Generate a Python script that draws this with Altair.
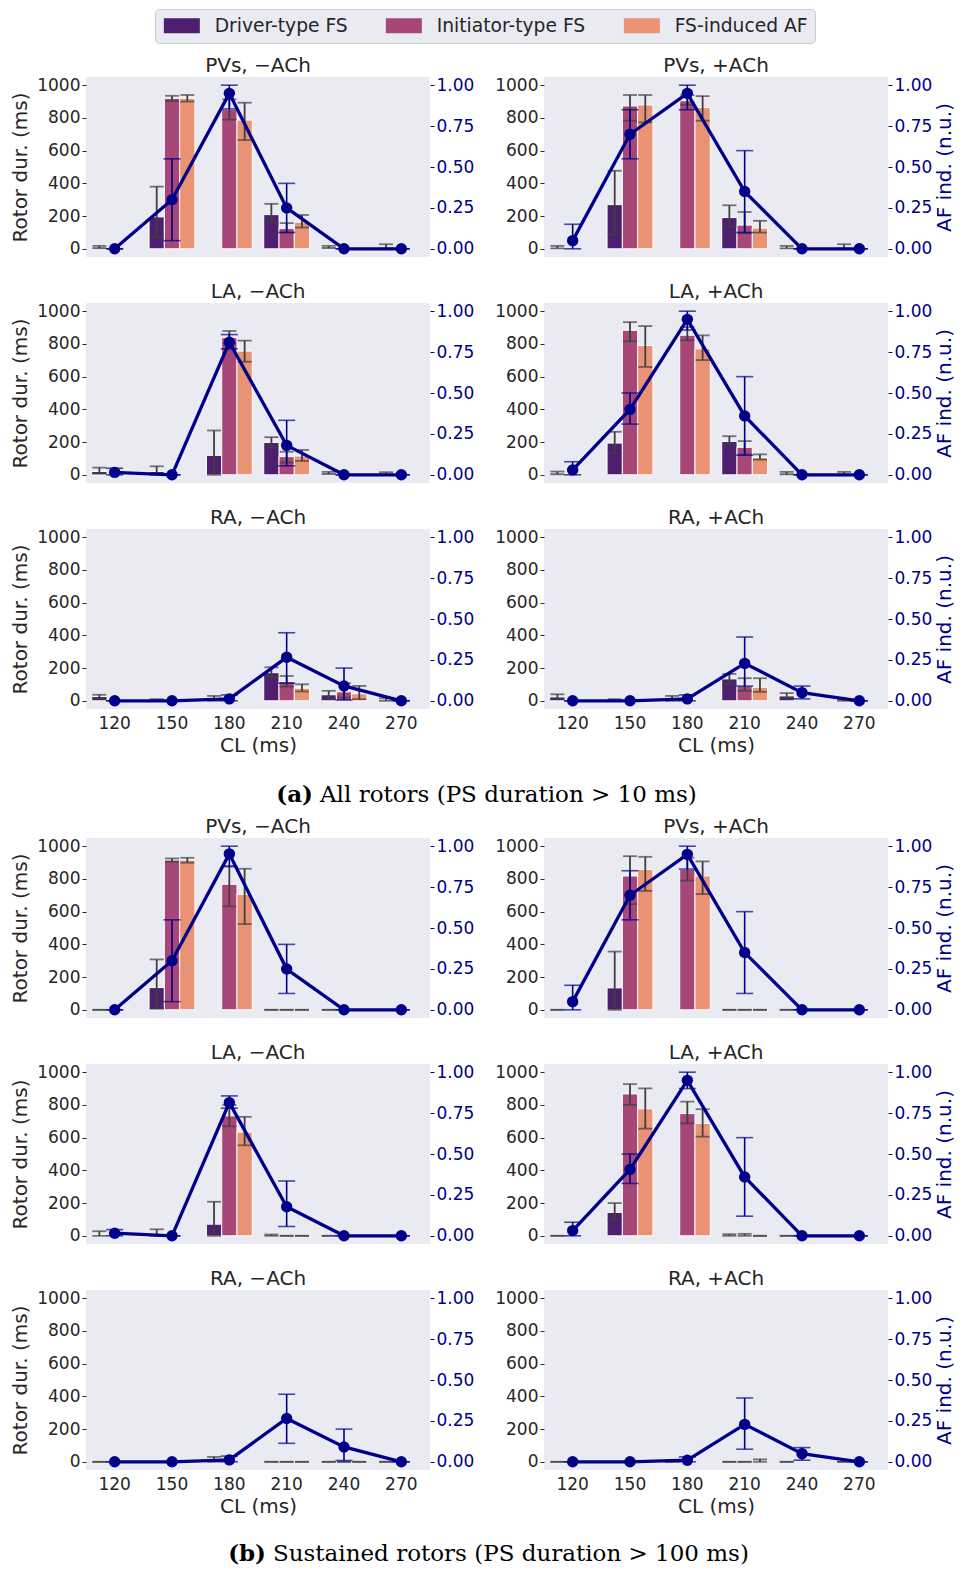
import altair as alt
import pandas as pd

CL = [120, 150, 180, 210, 240, 270]
TYPES = ["Driver-type FS", "Initiator-type FS", "FS-induced AF"]
COLORS = ["#4f1f6f", "#a74778", "#e99274"]
NAVY = "#00008b"
TXT = "#262626"
ERR = "#3f3f3f"

Y_TICKS_L = [0, 200, 400, 600, 800, 1000]
Y_TICKS_R = [0, 0.25, 0.5, 0.75, 1.0]

# Rotor duration (mean, lower, upper) in ms per CL, None = not present
# AF inducibility (mean, lower, upper) in n.u. per CL

# ---------- (a) All rotors ----------
A_PVS_NO = dict(
    drv=[(10, 4, 18), (195, 70, 380), None, (209, 160, 275), (10, 5, 18), (10, 2, 28)],
    ini=[None, (920, 903, 935), (853, 790, 913), (125, 100, 157), None, None],
    fsi=[None, (920, 900, 940), (787, 665, 893), (163, 130, 207), None, None],
    af=[(0, 0, 0), (0.30, 0.05, 0.55), (0.95, 0.855, 1.0), (0.25, 0.10, 0.40), (0, 0, 0), (0, 0, 0)],
)
A_PVS_ACH = dict(
    drv=[(8, 3, 18), (270, 90, 477), None, (191, 135, 266), (8, 3, 18), (8, 2, 28)],
    ini=[None, (873, 783, 940), (905, 880, 940), (145, 95, 225), None, None],
    fsi=[None, (879, 773, 940), (863, 783, 933), (127, 99, 171), None, None],
    af=[(0.05, 0, 0.15), (0.70, 0.55, 0.85), (0.95, 0.85, 1.0), (0.35, 0.10, 0.60), (0, 0, 0), (0, 0, 0)],
)
A_LA_NO = dict(
    drv=[(20, 8, 44), (20, 0, 52), (119, 0, 271), (198, 166, 230), (10, 5, 18), (8, 2, 16)],
    ini=[None, None, (838, 802, 879), (111, 75, 141), None, None],
    fsi=[None, None, (756, 691, 820), (115, 85, 152), None, None],
    af=[(0.015, 0, 0.04), (0, 0, 0), (0.81, 0.77, 0.857), (0.18, 0.055, 0.333), (0, 0, 0), (0, 0, 0)],
)
A_LA_ACH = dict(
    drv=[(10, 3, 20), (194, 131, 263), None, (204, 186, 236), (10, 3, 18), (5, 0, 18)],
    ini=[None, (883, 816, 933), (853, 822, 903), (168, 125, 206), None, None],
    fsi=[None, (790, 659, 909), (770, 701, 852), (105, 93, 125), None, None],
    af=[(0.03, 0, 0.08), (0.40, 0.31, 0.50), (0.95, 0.885, 1.0), (0.36, 0.12, 0.60), (0, 0, 0), (0, 0, 0)],
)
A_RA_NO = dict(
    drv=[(26, 16, 37), (5, 0, 10), (10, 0, 30), (172, 148, 205), (37, 10, 61), (8, 0, 15)],
    ini=[None, None, None, (118, 87, 152), (55, 20, 107), None],
    fsi=[None, None, None, (77, 57, 101), (43, 10, 91), None],
    af=[(0, 0, 0), (0, 0, 0), (0.012, 0, 0.036), (0.266, 0.108, 0.416), (0.091, 0.005, 0.20), (0, 0, 0)],
)
A_RA_ACH = dict(
    drv=[(22, 16, 40), (5, 0, 10), (10, 0, 30), (134, 103, 164), (30, 16, 47), (5, 0, 10)],
    ini=[None, None, None, (91, 61, 138), None, None],
    fsi=[None, None, None, (83, 55, 138), None, None],
    af=[(0, 0, 0), (0, 0, 0), (0.012, 0, 0.036), (0.229, 0.09, 0.39), (0.05, 0.012, 0.09), (0, 0, 0)],
)

# ---------- (b) Sustained rotors ----------
B_PVS_NO = dict(
    drv=[(0, 0, 0), (136, 8, 308), None, (0, 0, 0), (0, 0, 0), None],
    ini=[None, (915, 905, 925), (767, 632, 879), (0, 0, 0), None, None],
    fsi=[None, (915, 899, 929), (706, 524, 862), (0, 0, 0), None, None],
    af=[(0, 0, 0), (0.30, 0.05, 0.55), (0.953, 0.875, 1.0), (0.249, 0.10, 0.40), (0, 0, 0), (0, 0, 0)],
)
B_PVS_ACH = dict(
    drv=[(0, 0, 0), (134, 0, 356), None, (0, 0, 0), (0, 0, 0), None],
    ini=[None, (818, 646, 939), (858, 790, 930), (0, 0, 0), None, None],
    fsi=[None, (858, 727, 935), (818, 707, 907), (0, 0, 0), None, None],
    af=[(0.05, 0, 0.15), (0.70, 0.55, 0.85), (0.95, 0.86, 1.0), (0.35, 0.10, 0.60), (0, 0, 0), (0, 0, 0)],
)
B_LA_NO = dict(
    drv=[(8, 0, 28), (8, 0, 40), (71, 0, 208), (5, 0, 8), (0, 0, 0), None],
    ini=[None, None, (733, 669, 800), (0, 0, 0), None, None],
    fsi=[None, None, (634, 553, 727), (0, 0, 0), None, None],
    af=[(0.016, 0, 0.038), (0, 0, 0), (0.814, 0.78, 0.855), (0.178, 0.057, 0.335), (0, 0, 0), (0, 0, 0)],
)
B_LA_ACH = dict(
    drv=[(0, 0, 0), (143, 99, 200), None, (5, 0, 10), (0, 0, 0), None],
    ini=[None, (867, 800, 927), (747, 687, 820), (5, 0, 12), None, None],
    fsi=[None, (776, 655, 901), (687, 606, 774), (0, 0, 0), None, None],
    af=[(0.032, 0, 0.083), (0.406, 0.32, 0.50), (0.95, 0.90, 1.0), (0.36, 0.12, 0.60), (0, 0, 0), (0, 0, 0)],
)
B_RA_NO = dict(
    drv=[(0, 0, 0), None, (5, 0, 30), (0, 0, 0), (0, 0, 0), (0, 0, 0)],
    ini=[None, None, None, (0, 0, 0), (0, 0, 0), None],
    fsi=[None, None, None, (0, 0, 0), (0, 0, 0), None],
    af=[(0, 0, 0), (0, 0, 0), (0.012, 0, 0.035), (0.265, 0.113, 0.413), (0.091, 0.008, 0.20), (0, 0, 0)],
)
B_RA_ACH = dict(
    drv=[(0, 0, 0), None, (0, 0, 0), (0, 0, 0), (0, 0, 0), (0, 0, 0)],
    ini=[None, None, None, (0, 0, 0), None, None],
    fsi=[None, None, None, (5, 0, 15), None, None],
    af=[(0, 0, 0), (0, 0, 0), (0.01, 0, 0.03), (0.229, 0.077, 0.39), (0.05, 0.01, 0.087), (0, 0, 0)],
)

CAP_A = ("(a)", "All rotors (PS duration > 10 ms)")
CAP_B = ("(b)", "Sustained rotors (PS duration > 100 ms)")

PW, PH = 344, 180

xs = alt.Scale(domain=CL, paddingInner=0, paddingOuter=0)
offs = alt.Scale(domain=TYPES, paddingInner=0, paddingOuter=0.375)
ysl = alt.Scale(domain=[-50, 1050], nice=False, zero=False)
ysr = alt.Scale(domain=[-0.05, 1.05], nice=False, zero=False)

legend = alt.Legend(
    orient="none", legendX=69, legendY=-68, direction="horizontal", title=None,
    fillColor="#EAEAF2", strokeColor="#cccccc", cornerRadius=4, padding=7,
    labelFontSize=18.7, labelColor=TXT, labelFont="DejaVu Sans", labelOffset=34,
    columnPadding=36, symbolType="M-1,-1H3.8V1H-1Z", symbolSize=225,
    symbolStrokeWidth=0, symbolOpacity=1,
)


def panel(d, title, left, bottom):
    rows = []
    for key, t in zip(["drv", "ini", "fsi"], TYPES):
        for c, v in zip(CL, d[key]):
            if v is not None:
                rows.append(dict(cl=c, type=t, mean=v[0], lo=v[1], hi=v[2]))
    bdf = pd.DataFrame(rows)
    adf = pd.DataFrame([dict(cl=c, af=v[0], lo=v[1], hi=v[2]) for c, v in zip(CL, d["af"])])

    if bottom:
        xenc = alt.X("cl:O", scale=xs, axis=alt.Axis(
            title="CL (ms)", labelAngle=0, labelFontSize=17, labelColor=TXT,
            titleFontSize=20, titleFontWeight="normal", titleColor=TXT, ticks=False,
            domain=False, grid=False, labelPadding=6, titlePadding=4))
    else:
        xenc = alt.X("cl:O", scale=xs, axis=None)

    axl = alt.Axis(
        orient="left", values=Y_TICKS_L, format="d", labelFontSize=17, labelColor=TXT,
        tickColor=TXT, tickSize=4, labelPadding=2, domain=False, grid=False,
        minExtent=50, maxExtent=50,
        title="Rotor dur. (ms)" if left else None, titleFontSize=20, titleFontWeight="normal",
        titleColor=TXT, titlePadding=6)
    axr = alt.Axis(
        orient="right", values=Y_TICKS_R, format=".2f", labelFontSize=17, labelColor=NAVY,
        tickColor=NAVY, tickSize=4, labelPadding=2, domain=False, grid=False,
        minExtent=44, maxExtent=44, title=None if left else "AF ind. (n.u.)",
        titleFontSize=20, titleFontWeight="normal", titleColor=NAVY, titleAngle=270,
        titleBaseline="top", titlePadding=2)

    def yl(f):
        return alt.Y(f"{f}:Q", scale=ysl, axis=axl)

    def yr(f):
        return alt.Y(f"{f}:Q", scale=ysr, axis=axr)

    off = alt.XOffset("type:N", scale=offs)
    bb = alt.Chart(bdf)
    bars = bb.mark_bar(stroke="white", strokeWidth=1).encode(
        x=xenc, xOffset=off, y=yl("mean"), y2=alt.datum(0),
        color=alt.Color("type:N", scale=alt.Scale(domain=TYPES, range=COLORS), legend=legend))
    erule = bb.mark_rule(color=ERR, strokeWidth=1.8).encode(
        x=xenc, xOffset=off, y=yl("lo"), y2="hi:Q")
    ecap1 = bb.mark_tick(color=ERR, thickness=1.8, size=14).encode(x=xenc, xOffset=off, y=yl("lo"))
    ecap2 = bb.mark_tick(color=ERR, thickness=1.8, size=14).encode(x=xenc, xOffset=off, y=yl("hi"))
    left_layer = alt.layer(bars, erule, ecap1, ecap2)

    ab = alt.Chart(adf)
    arule = ab.mark_rule(color=NAVY, strokeWidth=1.6).encode(x=xenc, y=yr("lo"), y2="hi:Q")
    acap1 = ab.mark_tick(color=NAVY, thickness=1.6, size=17).encode(x=xenc, y=yr("lo"))
    acap2 = ab.mark_tick(color=NAVY, thickness=1.6, size=17).encode(x=xenc, y=yr("hi"))
    line = ab.mark_line(color=NAVY, strokeWidth=3.3).encode(x=xenc, y=yr("af"))
    pts = ab.mark_circle(color=NAVY, size=130, opacity=1).encode(x=xenc, y=yr("af"))
    right_layer = alt.layer(arule, acap1, acap2, line, pts)

    return alt.layer(left_layer, right_layer).resolve_scale(y="independent").properties(
        width=PW, height=PH,
        title=alt.TitleParams(title, fontSize=20, fontWeight="normal", color=TXT, offset=0))


def caption(parts, tag_x, h, ty):
    df = pd.DataFrame({"tag": [parts[0]], "rest": [parts[1]]})
    base = alt.Chart(df)
    tag = base.mark_text(align="right", baseline="middle", font="DejaVu Serif", fontSize=23,
                         fontWeight="bold", color="black").encode(
        text="tag:N", x=alt.value(tag_x), y=alt.value(ty))
    rest = base.mark_text(align="left", baseline="middle", font="DejaVu Serif", fontSize=23,
                          color="black").encode(
        text="rest:N", x=alt.value(tag_x + 7), y=alt.value(ty))
    return alt.layer(tag, rest).properties(
        width=700, height=h, view=alt.ViewBackground(fill="#ffffff", strokeWidth=0))


def section(ds):
    rows = []
    names = ["PVs", "LA", "RA"]
    for i, (dn, da) in enumerate(ds):
        bottom = i == 2
        rows.append(alt.hconcat(
            panel(dn, f"{names[i]}, \u2212ACh", True, bottom),
            panel(da, f"{names[i]}, +ACh", False, bottom),
            spacing=20))
    return alt.vconcat(*rows, spacing=25)


secA = section([(A_PVS_NO, A_PVS_ACH), (A_LA_NO, A_LA_ACH), (A_RA_NO, A_RA_ACH)])
secB = section([(B_PVS_NO, B_PVS_ACH), (B_LA_NO, B_LA_ACH), (B_RA_NO, B_RA_ACH)])

chart = alt.vconcat(
    secA, caption(CAP_A, 227, 42, 30), secB, caption(CAP_B, 180, 36, 28), spacing=10
).properties(
    padding={"left": 2, "top": 0, "right": 0, "bottom": 0}
).configure(font="DejaVu Sans").configure_view(fill="#EAEAF2", stroke=None)

chart.save("out.html", embed_options={"renderer": "svg", "actions": False})
